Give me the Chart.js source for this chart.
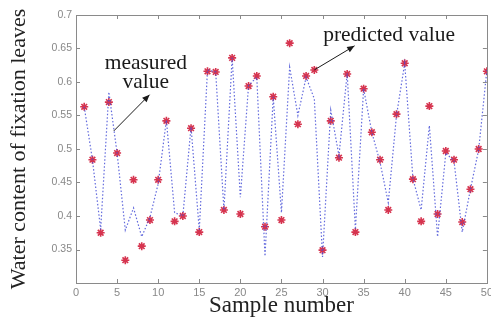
<!DOCTYPE html>
<html><head><meta charset="utf-8">
<script src="https://cdn.jsdelivr.net/npm/chart.js@4.4.1/dist/chart.umd.min.js"></script>
<style>html,body{margin:0;padding:0;overflow:hidden;background:#fff}</style>
</head><body>
<canvas id="c" width="496" height="320" style="display:block;width:496px;height:320px"></canvas>
<script>
const sampleNumbers = [1,2,3,4,5,6,7,8,9,10,11,12,13,14,15,16,17,18,19,20,21,22,23,24,25,26,27,28,29,30,31,32,33,34,35,36,37,38,39,40,41,42,43,44,45,46,47,48,49,50];
const measuredValues = [0.563,0.484,0.375,0.570,0.494,0.334,0.454,0.355,0.394,0.454,
  0.542,0.392,0.400,0.531,0.376,0.616,0.615,0.409,0.636,0.403,
  0.594,0.609,0.384,0.578,0.394,0.658,0.537,0.609,0.618,0.349,
  0.542,0.487,0.612,0.376,0.590,0.525,0.484,0.409,0.552,0.628,
  0.455,0.392,0.564,0.403,0.497,0.484,0.391,0.440,0.500,0.616];
const predictedValues = [0.563,0.484,0.380,0.585,0.494,0.379,0.412,0.369,0.398,0.448,
  0.543,0.405,0.400,0.533,0.379,0.618,0.615,0.409,0.636,0.428,
  0.595,0.607,0.340,0.578,0.405,0.622,0.550,0.607,0.575,0.339,
  0.558,0.490,0.613,0.380,0.590,0.525,0.480,0.420,0.550,0.628,
  0.456,0.409,0.535,0.369,0.494,0.482,0.376,0.440,0.499,0.618];
const xTickValues = [0,5,10,15,20,25,30,35,40,45,50];
const yTickValues = [0.35,0.4,0.45,0.5,0.55,0.6,0.65,0.7];
const xTitle = 'Sample number';
const yTitle = 'Water content of fixation leaves';
const annotations = [
  {lines:['measured','value'], x:8.5, y:0.628, arrowFrom:[4.6,0.527], arrowTo:[8.95,0.581]},
  {lines:['predicted value'], x:38.1, y:0.670, arrowFrom:[29.0,0.618], arrowTo:[33.9,0.654]}
];

const serif = '"Liberation Serif","DejaVu Serif",serif';

const framePlugin = {
  id:'frame',
  afterDraw(chart){
    const {ctx, chartArea:{left,right,top,bottom}, scales:{x,y}} = chart;
    ctx.save();
    ctx.strokeStyle = '#8a8a8a';
    ctx.lineWidth = 1;
    ctx.strokeRect(Math.round(left)+0.5, Math.round(top)+0.5, Math.round(right-left), Math.round(bottom-top));
    ctx.beginPath();
    xTickValues.forEach(v=>{
      const px = Math.round(x.getPixelForValue(v))+0.5;
      ctx.moveTo(px,bottom); ctx.lineTo(px,bottom-4);
      ctx.moveTo(px,top); ctx.lineTo(px,top+4);
    });
    yTickValues.forEach(v=>{
      const py = Math.round(y.getPixelForValue(v))+0.5;
      ctx.moveTo(left,py); ctx.lineTo(left+4,py);
      ctx.moveTo(right,py); ctx.lineTo(right-4,py);
    });
    ctx.stroke();
    // annotations
    ctx.fillStyle = '#1a1a1a';
    ctx.strokeStyle = '#1a1a1a';
    ctx.font = '21.5px ' + serif;
    ctx.textAlign = 'center';
    ctx.textBaseline = 'middle';
    annotations.forEach(a=>{
      const cx = x.getPixelForValue(a.x), cy = y.getPixelForValue(a.y);
      a.lines.forEach((t,i)=>ctx.fillText(t, cx, cy + i*19));
      const x0 = x.getPixelForValue(a.arrowFrom[0]), y0 = y.getPixelForValue(a.arrowFrom[1]);
      const x1 = x.getPixelForValue(a.arrowTo[0]), y1 = y.getPixelForValue(a.arrowTo[1]);
      ctx.lineWidth = 1;
      ctx.beginPath(); ctx.moveTo(x0,y0); ctx.lineTo(x1,y1); ctx.stroke();
      const ang = Math.atan2(y1-y0, x1-x0);
      ctx.beginPath();
      ctx.moveTo(x1,y1);
      ctx.lineTo(x1-8*Math.cos(ang-0.4), y1-8*Math.sin(ang-0.4));
      ctx.lineTo(x1-8*Math.cos(ang+0.4), y1-8*Math.sin(ang+0.4));
      ctx.closePath(); ctx.fill();
    });
    ctx.restore();
  }
};

new Chart(document.getElementById('c'), {
  type:'line',
  data:{
    datasets:[
      {label:'predicted value', data: sampleNumbers.map((n,i)=>({x:n,y:predictedValues[i]})),
       borderColor:'rgba(70,80,215,0.85)', borderWidth:1.2, borderDash:[1.5,2], pointRadius:0, tension:0, fill:false},
      {label:'measured value', data: sampleNumbers.map((n,i)=>({x:n,y:measuredValues[i]})),
       showLine:false, pointStyle:'star', pointRadius:4, borderColor:'rgba(210,30,60,0.9)', borderWidth:1.6, backgroundColor:'rgba(230,80,100,0.5)'}
    ]
  },
  options:{
    responsive:false, animation:false,
    layout:{padding:{top:15,right:6,left:0,bottom:0}},
    plugins:{legend:{display:false}, tooltip:{enabled:false}},
    scales:{
      x:{type:'linear', min:0, max:50, afterBuildTicks(s){s.ticks = xTickValues.map(v=>({value:v}));},
        afterFit(s){s.height = 37;},
        grid:{display:false, drawTicks:false}, border:{display:false},
        ticks:{padding:3, color:'#888', font:{family:'"Liberation Sans",sans-serif', size:11}, maxRotation:0, autoSkip:false},
        title:{display:true, text:xTitle, color:'#222', font:{family:serif, size:23}, padding:{top:-3,bottom:0}}},
      y:{type:'linear', min:0.3, max:0.7, afterBuildTicks(s){s.ticks = yTickValues.map(v=>({value:v}));},
        afterFit(s){s.width = 76;},
        grid:{display:false, drawTicks:false}, border:{display:false},
        ticks:{padding:4, color:'#888', font:{family:'"Liberation Sans",sans-serif', size:10.5}, autoSkip:false,
          callback:v=>String(+v.toFixed(2))},
        title:{display:true, text:yTitle, color:'#222', font:{family:serif, size:22}, padding:{top:6,bottom:0}}}
    }
  },
  plugins:[framePlugin]
});
</script>
</body></html>
